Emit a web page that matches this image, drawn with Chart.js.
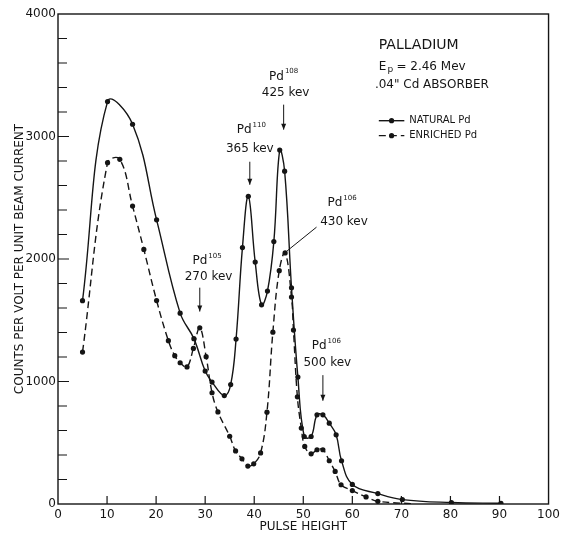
<!DOCTYPE html>
<html>
<head>
<meta charset="utf-8">
<script src="https://cdn.jsdelivr.net/npm/chart.js@4/dist/chart.umd.min.js"></script>
<style>
  html, body { margin: 0; padding: 0; background: #fff; }
  #wrap { width: 564px; height: 533px; }
</style>
</head>
<body>
<div id="wrap"><canvas id="pdChart"></canvas></div>
<script>
// pulse height spectra
var naturalX = [5, 10.1, 15.2, 20.1, 24.9, 27.7, 30.0, 31.4, 33.9, 35.2, 36.3, 37.6, 38.8, 40.2, 41.5, 42.7, 44.0, 45.2, 46.2, 47.6, 48.9, 50.2, 51.6, 52.8, 54.0, 55.3, 56.7, 57.8, 60.0, 65.2, 70.2, 80.2, 90.3];
var naturalY = [1660, 3285, 3100, 2320, 1558, 1350, 1085, 995, 885, 975, 1346, 2093, 2512, 1975, 1626, 1738, 2142, 2889, 2717, 1765, 1036, 551, 551, 728, 728, 660, 565, 353, 160, 85, 36, 12, 6];

// last point is where the dashed curve runs out (no dot drawn there)
var enrichedX = [5, 10.1, 12.6, 15.2, 17.5, 20.1, 22.5, 23.8, 24.9, 26.3, 27.6, 28.9, 30.2, 31.4, 32.6, 35.0, 36.2, 37.5, 38.7, 39.9, 41.3, 42.6, 43.8, 45.1, 46.3, 47.6, 48.0, 48.8, 49.6, 50.3, 51.6, 52.8, 54.0, 55.3, 56.5, 57.7, 60.0, 62.8, 65.2, 72.5];
var enrichedY = [1240, 2786, 2814, 2432, 2078, 1661, 1333, 1211, 1153, 1119, 1270, 1438, 1203, 908, 752, 553, 433, 369, 310, 328, 417, 750, 1403, 1905, 2050, 1690, 1420, 875, 620, 470, 410, 443, 443, 353, 266, 157, 110, 58, 22, 2];

var xTicks = [0, 10, 20, 30, 40, 50, 60, 70, 80, 90, 100];
var yTicks = [0, 1000, 2000, 3000, 4000];

var natural_label = 'NATURAL Pd';
var enriched_label = 'ENRICHED Pd';

var ink = '#151515';
var face = '"DejaVu Sans", "Liberation Sans", sans-serif';

function toPoints(xs, ys) {
    return xs.map(function (x, i) { return { x: x, y: ys[i] }; });
}

// Pd label with mass number as superscript, centred on cx
function isotope(ctx, cx, cy, mass) {
    ctx.font = '12px ' + face;
    var w1 = ctx.measureText('Pd').width;
    ctx.font = '7px ' + face;
    var w2 = ctx.measureText(mass).width;
    var left = cx - (w1 + w2 + 1) / 2;
    ctx.textAlign = 'left';
    ctx.textBaseline = 'middle';
    ctx.font = '12px ' + face;
    ctx.fillText('Pd', left, cy);
    ctx.font = '7px ' + face;
    ctx.fillText(mass, left + w1 + 1, cy - 5);
}

function arrowDown(ctx, x, y1, y2) {
    ctx.beginPath();
    ctx.moveTo(x, y1);
    ctx.lineTo(x, y2);
    ctx.stroke();
    ctx.beginPath();
    ctx.moveTo(x - 2.5, y2 - 6);
    ctx.lineTo(x + 2.5, y2 - 6);
    ctx.lineTo(x, y2);
    ctx.closePath();
    ctx.fill();
}

var paperMarks = {
    id: 'paperMarks',
    afterDraw: function (chart) {
        var ctx = chart.ctx, a = chart.chartArea;
        var xs = chart.scales.x, ys = chart.scales.y;
        var px = function (v) { return xs.getPixelForValue(v); };
        var py = function (v) { return ys.getPixelForValue(v); };
        ctx.save();
        ctx.strokeStyle = ink;
        ctx.fillStyle = ink;

        // frame + inward ticks
        ctx.lineWidth = 1.4;
        ctx.strokeRect(a.left, a.top, a.right - a.left, a.bottom - a.top);
        ctx.lineWidth = 1.2;
        ctx.beginPath();
        for (var v = 200; v < 4000; v += 200) {
            ctx.moveTo(a.left, py(v));
            ctx.lineTo(a.left + (v % 1000 === 0 ? 11 : 9), py(v));
        }
        for (var u = 10; u < 100; u += 10) {
            ctx.moveTo(px(u), a.bottom);
            ctx.lineTo(px(u), a.bottom - 8);
        }
        ctx.stroke();

        // peak labels
        ctx.lineWidth = 1;
        ctx.textAlign = 'center';
        ctx.textBaseline = 'middle';

        isotope(ctx, px(46.0), py(3489), '108');
        ctx.font = '12px ' + face; ctx.textAlign = 'center';
        ctx.fillText('425 kev', px(46.4), py(3358));
        arrowDown(ctx, px(46.0), py(3260), py(3056));

        isotope(ctx, px(39.4), py(3055), '110');
        ctx.font = '12px ' + face; ctx.textAlign = 'center';
        ctx.fillText('365 kev', px(39.1), py(2900));
        arrowDown(ctx, px(39.1), py(2794), py(2606));

        isotope(ctx, px(57.9), py(2455), '106');
        ctx.font = '12px ' + face; ctx.textAlign = 'center';
        ctx.fillText('430 kev', px(58.3), py(2300));
        ctx.beginPath();
        ctx.moveTo(px(52.7), py(2260));
        ctx.lineTo(px(46.7), py(2066));
        ctx.stroke();

        isotope(ctx, px(30.4), py(1986), '105');
        ctx.font = '12px ' + face; ctx.textAlign = 'center';
        ctx.fillText('270 kev', px(30.7), py(1858));
        arrowDown(ctx, px(28.9), py(1766), py(1571));

        isotope(ctx, px(54.7), py(1288), '106');
        ctx.font = '12px ' + face; ctx.textAlign = 'center';
        ctx.fillText('500 kev', px(54.9), py(1153));
        arrowDown(ctx, px(54.0), py(1052), py(843));

        // title block
        ctx.textAlign = 'left';
        ctx.font = '14px ' + face;
        ctx.fillText('PALLADIUM', px(65.4), py(3741));
        ctx.font = '12px ' + face;
        var ex = px(65.4);
        ctx.fillText('E', ex, py(3570));
        var ew = ctx.measureText('E').width;
        ctx.font = '9px ' + face;
        ctx.fillText('p', ex + ew + 1, py(3570) + 3);
        ctx.font = '12px ' + face;
        ctx.fillText('= 2.46 Mev', ex + ew + 10, py(3570));
        ctx.fillText('.04" Cd ABSORBER', px(64.6), py(3423));

        // legend
        var sets = chart.data.datasets;
        var rows = [3129, 3007];
        for (var i = 0; i < sets.length; i++) {
            var ly = py(rows[i]);
            ctx.setLineDash(sets[i].borderDash || []);
            ctx.lineWidth = 1.4;
            ctx.beginPath();
            ctx.moveTo(px(65.4), ly);
            ctx.lineTo(px(70.6), ly);
            ctx.stroke();
            ctx.setLineDash([]);
            ctx.beginPath();
            ctx.arc(px(68.0), ly, 2.6, 0, Math.PI * 2);
            ctx.fill();
            ctx.font = '10px ' + face;
            ctx.fillText(sets[i].label, px(71.6), ly);
        }
        ctx.restore();
    }
};

var ctx = document.getElementById('pdChart').getContext('2d');

var pdChart = new Chart(ctx, {
    type: 'line',
    data: {
        datasets: [{
            label: natural_label,
            data: toPoints(naturalX, naturalY),
            borderColor: ink,
            backgroundColor: ink,
            borderWidth: 1.4,
            pointRadius: 2.6,
            pointBorderWidth: 0,
            tension: 0.4,
            fill: false
        }, {
            label: enriched_label,
            data: toPoints(enrichedX, enrichedY),
            borderColor: ink,
            backgroundColor: ink,
            borderWidth: 1.4,
            borderDash: [7, 4],
            pointRadius: function (c) { return c.dataIndex === enrichedX.length - 1 ? 0 : 2.6; },
            pointBorderWidth: 0,
            tension: 0.4,
            fill: false
        }]
    },
    options: {
        responsive: true,
        maintainAspectRatio: false,
        animation: false,
        layout: { padding: { top: 14, right: 11, left: 0, bottom: 0 } },
        scales: {
            x: {
                type: 'linear',
                min: 0,
                max: 100,
                afterBuildTicks: function (s) { s.ticks = xTicks.map(function (v) { return { value: v }; }); },
                afterFit: function (s) { s.height = 29; },
                ticks: {
                    color: ink,
                    font: { family: face, size: 12 },
                    padding: 4,
                    maxRotation: 0,
                    autoSkip: false,
                    callback: function (v) { return String(v); }
                },
                grid: { display: false, drawTicks: false },
                border: { display: false },
                title: {
                    display: true,
                    text: 'PULSE HEIGHT',
                    color: ink,
                    font: { family: face, size: 12, lineHeight: 1 },
                    padding: { top: 0, bottom: 0 }
                }
            },
            y: {
                min: 0,
                max: 4000,
                afterBuildTicks: function (s) { s.ticks = yTicks.map(function (v) { return { value: v }; }); },
                afterFit: function (s) { s.width = 58; },
                ticks: {
                    color: ink,
                    font: { family: face, size: 12 },
                    padding: 2,
                    callback: function (v) { return String(v); }
                },
                grid: { display: false, drawTicks: false },
                border: { display: false },
                title: {
                    display: true,
                    text: 'COUNTS PER VOLT PER UNIT BEAM CURRENT',
                    color: ink,
                    font: { family: face, size: 12, lineHeight: 1.2 },
                    padding: { top: 13, bottom: 0 }
                }
            }
        },
        plugins: {
            legend: { display: false },
            title: { display: false },
            tooltip: { enabled: false }
        }
    },
    plugins: [paperMarks]
});
</script>
</body>
</html>
